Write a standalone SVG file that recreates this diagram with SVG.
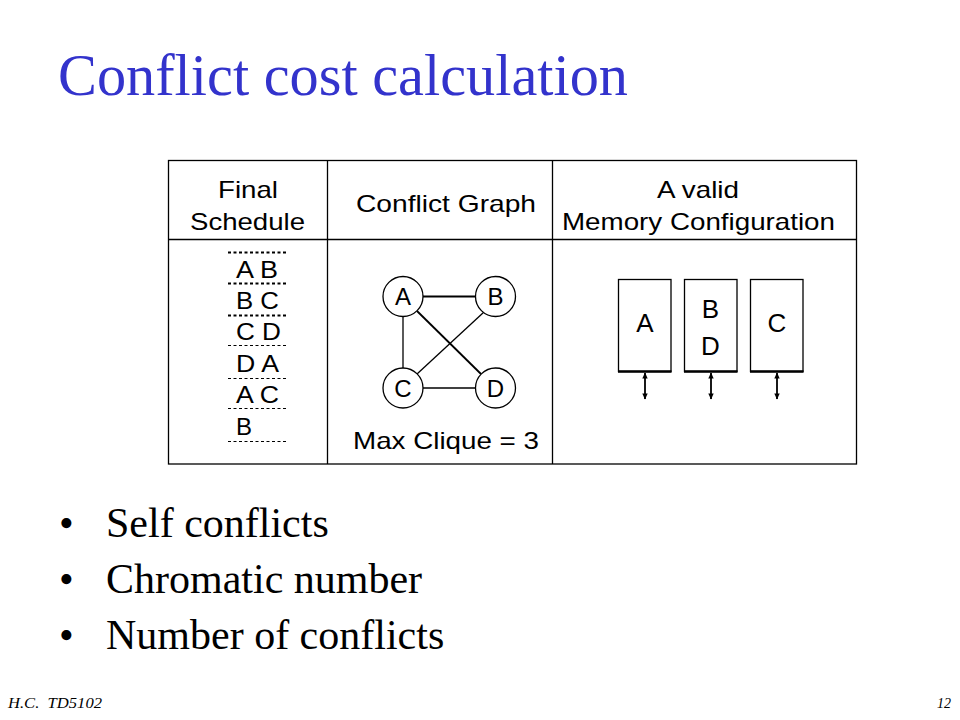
<svg xmlns="http://www.w3.org/2000/svg" width="960" height="720" viewBox="0 0 960 720">
<defs>
<style>
.sans{font-family:"Liberation Sans",Arial,sans-serif;fill:#000}
.serif{font-family:"Liberation Serif","Times New Roman",serif;fill:#000}
.tbl{stroke:#000;stroke-width:1.3;fill:none}
.dash{stroke:#000;stroke-width:1.2;stroke-dasharray:3,2.5;fill:none}
.edge{stroke:#000;stroke-width:1.3;fill:none}
.node{fill:#fff;stroke:#000;stroke-width:1.3}
.arrow{stroke:#000;stroke-width:1.8;fill:none;marker-start:url(#ah);marker-end:url(#ah)}
</style>
<marker id="ah" viewBox="0 0 10 10" refX="9" refY="5" markerWidth="8" markerHeight="6" markerUnits="userSpaceOnUse" orient="auto-start-reverse">
<path d="M0,0.5 L10,5 L0,9.5 z" fill="#000"/>
</marker>
</defs>
<rect width="960" height="720" fill="#fff"/>

<text class="serif" x="58" y="95" font-size="60" style="fill:#3333CC" textLength="570" lengthAdjust="spacingAndGlyphs">Conflict cost calculation</text>

<g id="table">
<rect class="tbl" x="168.5" y="160.5" width="688" height="303.5"/>
<line class="tbl" x1="168.5" y1="239.5" x2="856.5" y2="239.5"/>
<line class="tbl" x1="327.5" y1="160.5" x2="327.5" y2="464"/>
<line class="tbl" x1="552.5" y1="160.5" x2="552.5" y2="464"/>
<text class="sans" x="218" y="198" font-size="24" textLength="60" lengthAdjust="spacingAndGlyphs">Final</text>
<text class="sans" x="190" y="230" font-size="24" textLength="115" lengthAdjust="spacingAndGlyphs">Schedule</text>
<text class="sans" x="356" y="212" font-size="24" textLength="180" lengthAdjust="spacingAndGlyphs">Conflict Graph</text>
<text class="sans" x="657" y="198" font-size="24" textLength="82" lengthAdjust="spacingAndGlyphs">A valid</text>
<text class="sans" x="562" y="230" font-size="24" textLength="273" lengthAdjust="spacingAndGlyphs">Memory Configuration</text>
</g>

<g id="schedule">
<line class="dash" x1="228" y1="252.5" x2="288" y2="252.5" style="stroke-width:1.8"/>
<line class="dash" x1="228" y1="283.5" x2="288" y2="283.5" style="stroke-width:1.8"/>
<line class="dash" x1="228" y1="315.5" x2="288" y2="315.5" style="stroke-width:1.8"/>
<line class="dash" x1="228" y1="345.5" x2="288" y2="345.5"/>
<line class="dash" x1="228" y1="378.5" x2="288" y2="378.5"/>
<line class="dash" x1="228" y1="408.5" x2="288" y2="408.5"/>
<line class="dash" x1="228" y1="441.5" x2="288" y2="441.5"/>
<text class="sans" x="236" y="278" font-size="24" textLength="42" lengthAdjust="spacingAndGlyphs">A B</text>
<text class="sans" x="236" y="309" font-size="24" textLength="43" lengthAdjust="spacingAndGlyphs">B C</text>
<text class="sans" x="236" y="340" font-size="24" textLength="45" lengthAdjust="spacingAndGlyphs">C D</text>
<text class="sans" x="236" y="372" font-size="24" textLength="43" lengthAdjust="spacingAndGlyphs">D A</text>
<text class="sans" x="236" y="403" font-size="24" textLength="43" lengthAdjust="spacingAndGlyphs">A C</text>
<text class="sans" x="236" y="435" font-size="24">B</text>
</g>

<g id="connectors">
<line class="edge" x1="423" y1="296.5" x2="476" y2="296.5" style="stroke-width:2"/>
<line class="edge" x1="403" y1="316" x2="403" y2="368"/>
<line class="edge" x1="423" y1="388" x2="476" y2="388"/>
<line class="edge" x1="417" y1="311" x2="481" y2="374" style="stroke-width:1.8"/>
<line class="edge" x1="484" y1="312" x2="417" y2="374"/>
</g>

<g id="node-A"><circle class="node" cx="403" cy="296.5" r="20"/><text class="sans" x="403" y="305" font-size="24" text-anchor="middle">A</text></g>
<g id="node-B"><circle class="node" cx="495.5" cy="296.5" r="20"/><text class="sans" x="495.5" y="305" font-size="24" text-anchor="middle">B</text></g>
<g id="node-C"><circle class="node" cx="403" cy="388" r="20"/><text class="sans" x="403" y="396.5" font-size="24" text-anchor="middle">C</text></g>
<g id="node-D"><circle class="node" cx="495.5" cy="388" r="20"/><text class="sans" x="495.5" y="396.5" font-size="24" text-anchor="middle">D</text></g>

<text class="sans" x="353" y="449" font-size="24" textLength="186" lengthAdjust="spacingAndGlyphs">Max Clique = 3</text>

<g id="mem-A">
<rect class="tbl" x="618.5" y="279.5" width="52.5" height="92"/>
<line x1="618" y1="371.5" x2="671.5" y2="371.5" stroke="#000" stroke-width="2.5"/>
<text class="sans" x="645" y="332" font-size="26" text-anchor="middle">A</text>
</g>
<g id="mem-BD">
<rect class="tbl" x="684.5" y="279.5" width="52.5" height="92"/>
<line x1="684" y1="371.5" x2="737.5" y2="371.5" stroke="#000" stroke-width="2.5"/>
<text class="sans" x="710.5" y="318" font-size="26" text-anchor="middle">B</text>
<text class="sans" x="710.5" y="355" font-size="26" text-anchor="middle">D</text>
</g>
<g id="mem-C">
<rect class="tbl" x="750.5" y="279.5" width="52.5" height="92"/>
<line x1="750" y1="371.5" x2="803.5" y2="371.5" stroke="#000" stroke-width="2.5"/>
<text class="sans" x="777" y="332" font-size="26" text-anchor="middle">C</text>
</g>
<g id="ports">
<line class="arrow" x1="645" y1="373" x2="645" y2="399"/>
<line class="arrow" x1="711" y1="373" x2="711" y2="399"/>
<line class="arrow" x1="777" y1="373" x2="777" y2="399"/>
</g>

<g id="bullets">
<text class="serif" x="59" y="537" font-size="42">•</text>
<text class="serif" x="106" y="537" font-size="42">Self conflicts</text>
<text class="serif" x="59" y="593" font-size="42">•</text>
<text class="serif" x="106" y="593" font-size="42">Chromatic number</text>
<text class="serif" x="59" y="649" font-size="42">•</text>
<text class="serif" x="106" y="649" font-size="42">Number of conflicts</text>
</g>

<text class="serif" x="8" y="708" font-size="14" font-style="italic" textLength="94" lengthAdjust="spacingAndGlyphs" xml:space="preserve">H.C.  TD5102</text>
<text class="serif" x="951" y="708" font-size="14" font-style="italic" text-anchor="end">12</text>
</svg>
